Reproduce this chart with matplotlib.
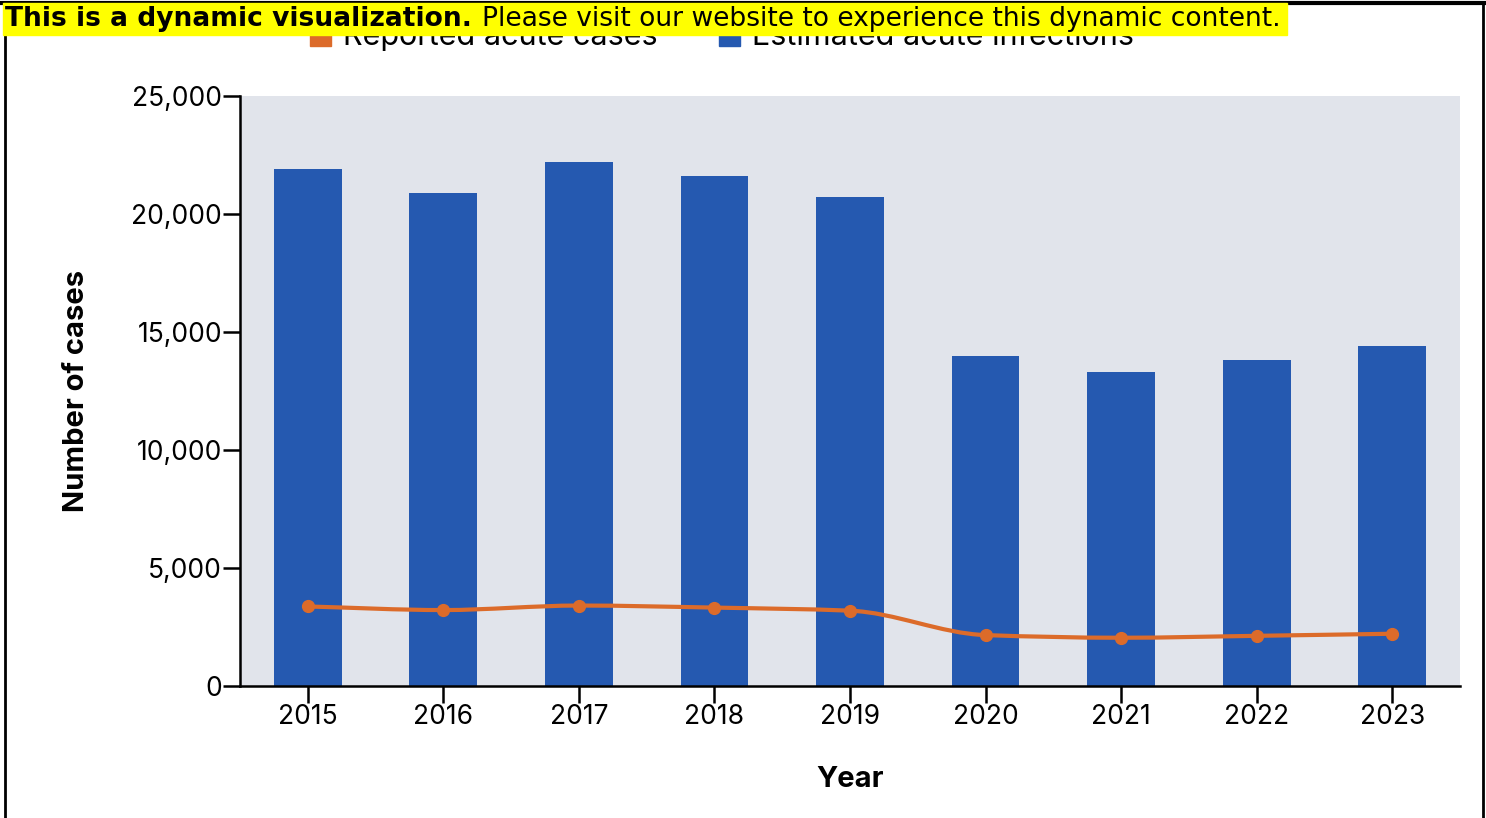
import numpy as np
import matplotlib
matplotlib.use("Agg")
import matplotlib.pyplot as plt
from matplotlib.path import Path
from matplotlib.patches import PathPatch, Rectangle
from matplotlib.lines import Line2D

# --- data ---
years = ["2015", "2016", "2017", "2018", "2019", "2020", "2021", "2022", "2023"]
estimated_infections = [21900, 20900, 22200, 21600, 20700, 14000, 13300, 13800, 14400]
reported_cases = [3370, 3218, 3409, 3322, 3192, 2157, 2045, 2126, 2214]

BLUE = "#2559b0"
ORANGE = "#dc6b2a"
BG = "#e1e4eb"

plt.rcParams["font.family"] = ["Inter", "DejaVu Sans"]


def monotone_path(x, y):
    # smooth curve through the points (monotone cubic, like d3 curveMonotoneX)
    x = np.asarray(x, float)
    y = np.asarray(y, float)
    h = np.diff(x)
    d = np.diff(y) / h
    m = np.zeros_like(y)
    m[0], m[-1] = d[0], d[-1]
    for i in range(1, len(y) - 1):
        if d[i - 1] * d[i] > 0:
            m[i] = 3 * (h[i - 1] + h[i]) / ((2 * h[i] + h[i - 1]) / d[i - 1] + (h[i] + 2 * h[i - 1]) / d[i])
    verts = [(x[0], y[0])]
    codes = [Path.MOVETO]
    for i in range(len(x) - 1):
        verts += [(x[i] + h[i] / 3, y[i] + m[i] * h[i] / 3),
                  (x[i + 1] - h[i] / 3, y[i + 1] - m[i + 1] * h[i] / 3),
                  (x[i + 1], y[i + 1])]
        codes += [Path.CURVE4] * 3
    return Path(verts, codes)


fig = plt.figure(figsize=(14.86, 8.18), dpi=100)
ax = fig.add_axes([240 / 1486, 132 / 818, 1220 / 1486, 590 / 818])
ax.set_facecolor(BG)

xs = np.arange(len(years))
ax.bar(xs, estimated_infections, width=0.5, color=BLUE, zorder=2,
       label="Estimated acute infections")
ax.add_patch(PathPatch(monotone_path(xs, reported_cases), fill=False,
                       edgecolor=ORANGE, lw=3, zorder=3, capstyle="round"))
ax.plot(xs, reported_cases, "o", color=ORANGE, ms=8.5, zorder=4)

ax.set_xlim(-0.5, len(years) - 0.5)
ax.set_ylim(0, 25000)
ax.set_xticks(xs)
ax.set_xticklabels(years)
ax.set_yticks(range(0, 25001, 5000))
ax.set_yticklabels([f"{v:,}" for v in range(0, 25001, 5000)])
ax.tick_params(axis="both", labelsize=19, length=12, width=1.8, pad=1)
for s in ["top", "right"]:
    ax.spines[s].set_visible(False)
for s in ["left", "bottom"]:
    ax.spines[s].set_linewidth(1.8)

ax.set_ylabel("Number of cases", fontsize=21, fontweight="bold", labelpad=30)
ax.set_xlabel("Year", fontsize=21, fontweight="bold", labelpad=26)

# legend (partly hidden by the banner, as in the original)
handles = [Rectangle((0, 0), 1, 1, color=ORANGE), Rectangle((0, 0), 1, 1, color=BLUE)]
fig.legend(handles, ["Reported acute cases", "Estimated acute infections"],
           loc="center", bbox_to_anchor=(722 / 1486, 1 - 37 / 818), ncol=2,
           frameon=False, fontsize=22, handlelength=0.7, handleheight=0.8,
           handletextpad=0.4, columnspacing=2.0)

# frame around figure
fig.add_artist(Line2D([5 / 1486, 5 / 1486], [0, 1 - 3 / 818], color="black", lw=2))
fig.add_artist(Line2D([1483 / 1486, 1483 / 1486], [0, 1 - 3 / 818], color="black", lw=2))
fig.add_artist(Line2D([0, 1], [1 - 3 / 818, 1 - 3 / 818], color="black", lw=3))

# banner
fig.add_artist(Rectangle((3 / 1486, 1 - 35 / 818), 1284 / 1486, 32 / 818,
                         transform=fig.transFigure, color="#ffff00", zorder=10))
t1 = fig.text(5 / 1486, 1 - 19 / 818, "This is a dynamic visualization.",
              family="DejaVu Sans", fontweight="bold", fontsize=19.1,
              va="center", ha="left", zorder=11)
fig.canvas.draw()
bb = t1.get_window_extent()
fig.text((bb.x1 + 10) / 1486, 1 - 19 / 818,
         "Please visit our website to experience this dynamic content.",
         family="DejaVu Sans", fontsize=19.1, va="center", ha="left", zorder=11)

fig.savefig("out.png", dpi=100)
